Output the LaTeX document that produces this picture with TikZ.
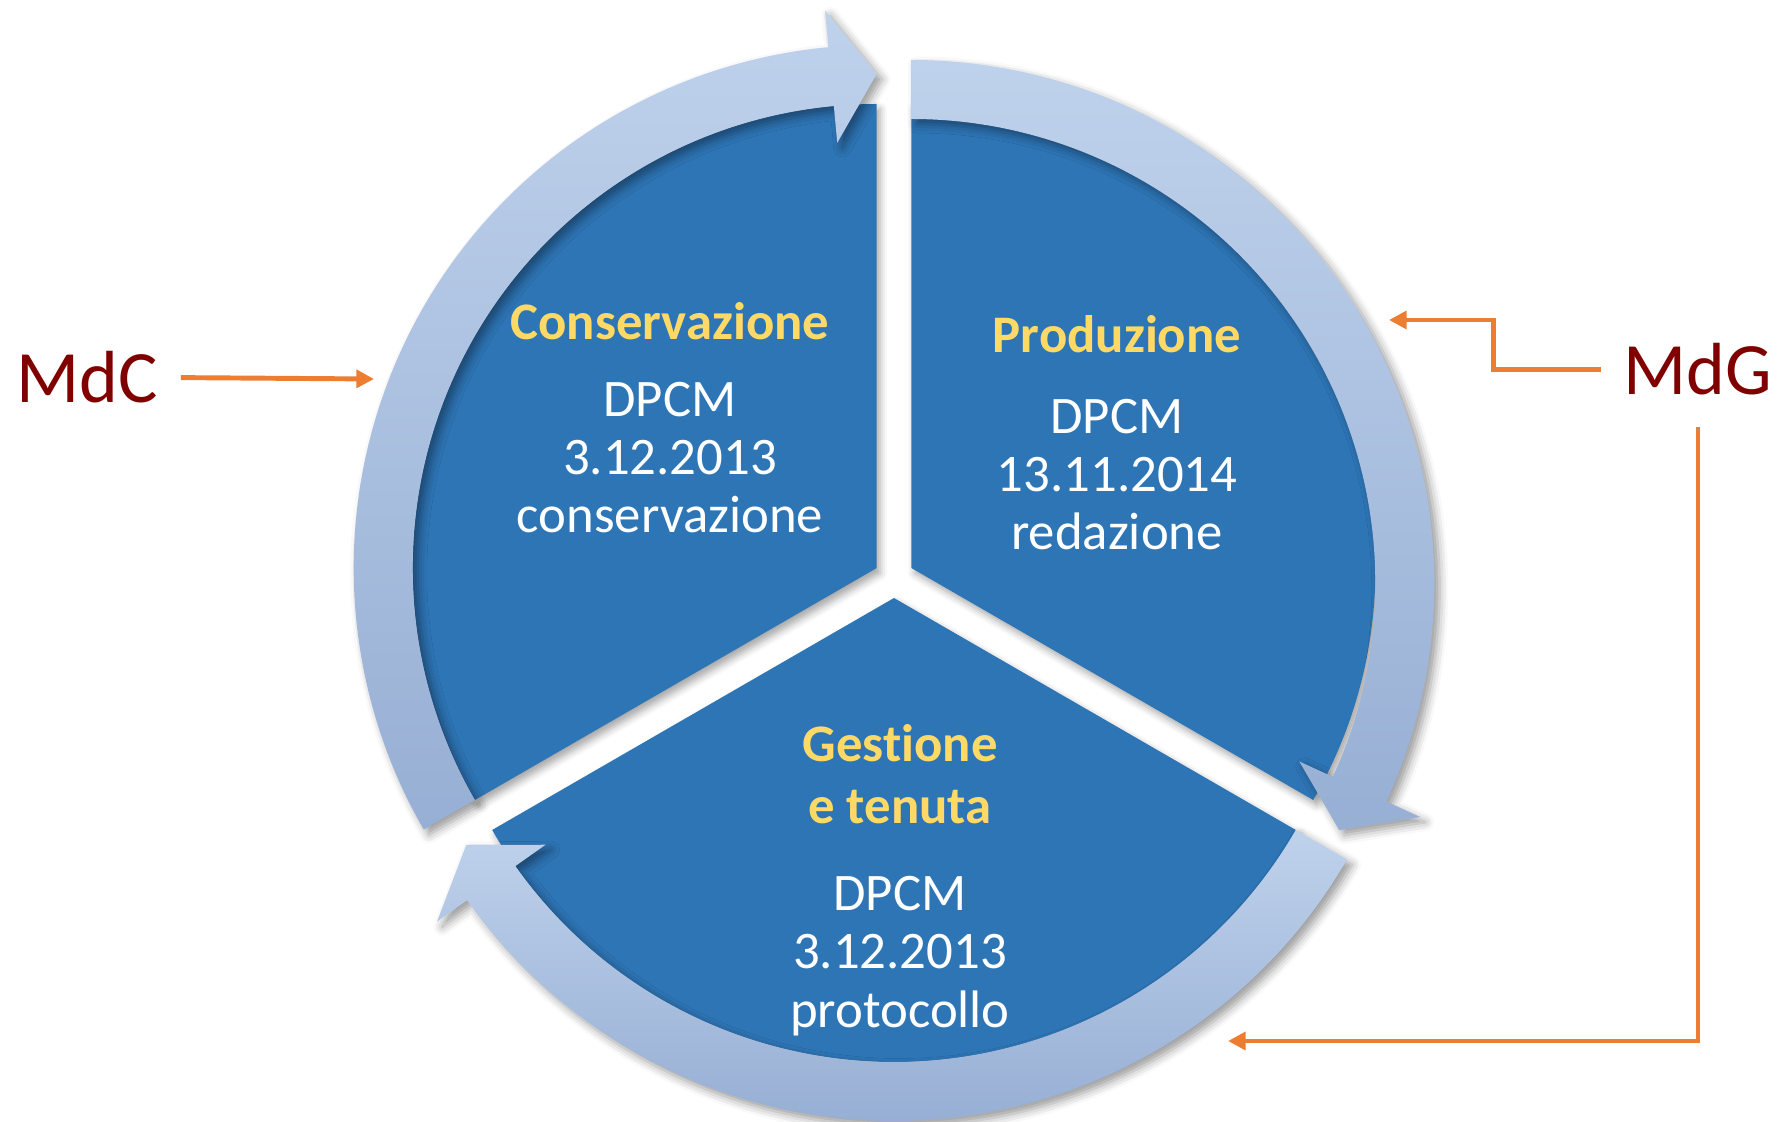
\documentclass[tikz,border=0pt]{standalone}
\usepackage{fontspec}
\setmainfont{Carlito}[Ligatures=NoCommon]
\usetikzlibrary{arrows.meta}
\usetikzlibrary{shadows.blur}

\definecolor{sector}{HTML}{2E75B6}
\definecolor{ringtop}{HTML}{BFD2EC}
\definecolor{ringbot}{HTML}{97AFD4}
\definecolor{gold}{HTML}{FFD966}
\definecolor{maroon}{HTML}{800000}
\definecolor{orangeline}{HTML}{ED7D31}

\tikzset{
  wedge/.style={fill=sector, blur shadow={shadow xshift=1pt, shadow yshift=-1.5pt, shadow blur radius=2pt, shadow opacity=35}},
  ring/.style={top color=ringtop, bottom color=ringbot, blur shadow={shadow xshift=1.5pt, shadow yshift=-1.5pt, shadow blur radius=2.5pt, shadow opacity=40}},
  title/.style={text=gold, font=\bfseries\fontsize{15}{17.4}\selectfont, align=center, anchor=base, inner sep=0},
  body/.style={text=white, font=\fontsize{15}{16.6}\selectfont, align=center, anchor=base, inner sep=0},
  law/.style={text=maroon, font=\fontsize{21}{25}\selectfont, anchor=base, inner xsep=6.4pt, inner ysep=8.8pt},
  link/.style={draw=orangeline, line width=1.4pt, ->, >={Triangle[length=5pt,width=5pt]}}
}

\begin{document}
\begin{tikzpicture}[x=0.01cm, y=0.01cm]
\useasboundingbox (0,0) rectangle (1783,1121);
\begin{scope}[shift={(894,543)}]
\foreach \s [evaluate=\s as \m using \s+60, evaluate=\s as \e using \s+120] in {90,210,330} {
 \begin{scope}[shift={(\m:20)}]
 \path[wedge] (0,0) -- (\s:464) arc[start angle=\s, end angle=\e, radius=464] -- cycle;
 \end{scope}
}
\foreach \s/\dy [evaluate=\s as \m using \s+60, evaluate=\s as \e using \s+120, evaluate=\s as \h using \s+5.3] in {90/0,210/0,330/-15} {
 \begin{scope}[shift={(\m:20)}, yshift=\dy*0.01cm]
 \path[ring] (\e:523) arc[start angle=\e, end angle=\h, radius=523] -- (\h:560) -- (\s:494)
   -- (\h:427) -- (\h:464) arc[start angle=\h, end angle=\e, radius=464] -- cycle;
 \end{scope}
}
\end{scope}

\node[title] (cons) at (670,781) {Conservazione};
\node[body] (consdpcm) at (670,588) {DPCM\\3.12.2013\\conservazione};
\node[title] (prod) at (1117,768) {Produzione};
\node[body] (proddpcm) at (1117,571) {DPCM\\13.11.2014\\redazione};
\node[title] (gest) at (900,298) {Gestione\\e tenuta};
\node[body] (gestdpcm) at (900,94) {DPCM\\3.12.2013\\protocollo};

\node[law] (mdc) at (87,718) {MdC};
\node[law] (mdg) at (1698,726) {MdG};
\coordinate (inC) at (374,742);
\coordinate (inP) at (1389,801);
\coordinate (inG) at (1228,80);
\draw[link] (mdc.east) -- (inC);
\draw[link] (mdg.west) -- ++(-107,0) |- (inP);
\draw[link] (mdg.south) |- (inG);
\end{tikzpicture}
\end{document}
